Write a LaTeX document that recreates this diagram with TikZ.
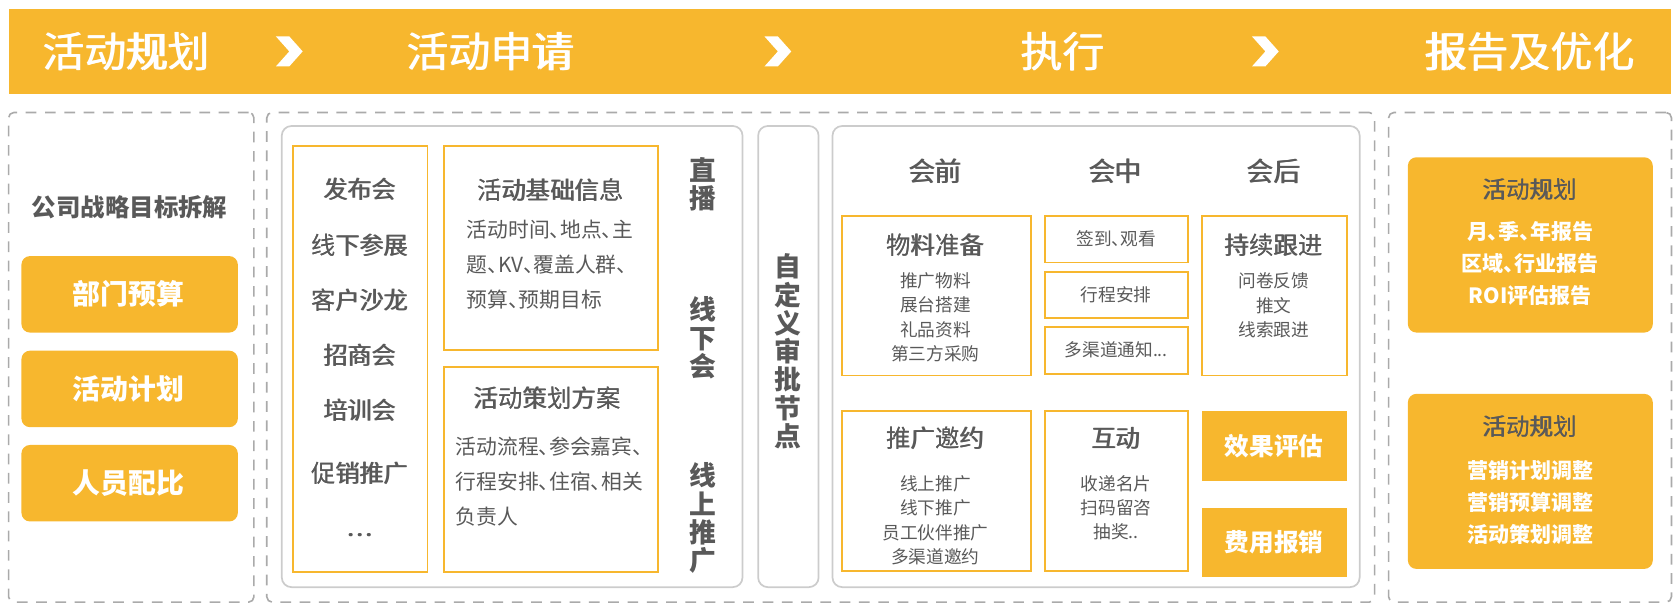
\documentclass[tikz,border=0pt]{standalone}
\usepackage{fontspec}
\setmainfont{Noto Sans CJK SC}[RawFeature=+palt]
\usetikzlibrary{fit}

\definecolor{barorange}{RGB}{247,183,46}
\definecolor{textgray}{RGB}{89,89,89}
\definecolor{dashgray}{RGB}{170,170,170}
\definecolor{linegray}{RGB}{204,204,204}

% heavier strokes for the medium-weight labels
\newcommand{\thick}[2][0.3pt]{\rlap{#2}\kern#1#2}

\tikzset{
  panel/.style={draw=dashgray, line width=0.75pt, dash pattern=on 5pt off 4pt, rounded corners=2.5pt, inner sep=0pt},
  frame/.style={draw=linegray, line width=0.8pt, rounded corners=4.5pt, inner sep=0pt},
  obox/.style={draw=barorange, line width=0.9pt, inner sep=0pt},
  ofill/.style={fill=barorange, inner sep=0pt},
  rfill/.style={fill=barorange, rounded corners=4pt, inner sep=0pt},
  head/.style={text=white, inner sep=0pt, font=\fontsize{19.5}{19.5}\selectfont},
  whitebig/.style={text=white, inner sep=0pt, font=\bfseries\fontsize{13}{13}\selectfont},
  whitemid/.style={text=white, inner sep=0pt, font=\bfseries\fontsize{11.5}{12}\selectfont},
  sidehead/.style={text=textgray, inner sep=0pt, font=\bfseries\fontsize{11.4}{12}\selectfont},
  item/.style={text=textgray, inner sep=0pt, font=\fontsize{11.3}{12}\selectfont},
  title/.style={text=textgray, inner sep=0pt, font=\fontsize{11.4}{12}\selectfont},
  body/.style={text=textgray, inner sep=0pt, align=left, font=\fontsize{9.7}{16.4}\selectfont},
  vert/.style={text=textgray, inner sep=0pt, align=center, font=\bfseries\fontsize{12.5}{13.2}\selectfont},
  phase/.style={text=textgray, inner sep=0pt, font=\fontsize{12.5}{13}\selectfont},
  small/.style={text=textgray, inner sep=0pt, align=center, font=\fontsize{8.25}{11.35}\selectfont},
  rtitle/.style={text=textgray, inner sep=0pt, font=\fontsize{11}{12}\selectfont},
  rline/.style={text=white, inner sep=0pt, align=center, font=\bfseries\fontsize{9.8}{14.8}\selectfont}
}

\begin{document}
\begin{tikzpicture}[x=0.5pt,y=-0.5pt]
  \useasboundingbox (0,0) rectangle (1568,571);
  % Header bar
  \node[ofill, fit={(8,8.5) (1560,87.5)}] (bar) {};
  \node[head] (h1) at (118,48) {\thick[0.55pt]{活动规划}};
  \node[head] (h2) at (458,48) {\thick[0.55pt]{活动申请}};
  \node[head] (h3) at (992,48) {\thick[0.55pt]{执行}};
  \node[head] (h4) at (1428,48) {\thick[0.55pt]{报告及优化}};
  \foreach \cx in {270,726,1181}
    \fill[white] (\cx-12.5,34) -- (\cx,34) -- (\cx+12.5,48) -- (\cx,62) -- (\cx-12.5,62) -- (\cx,48) -- cycle;

  % Planning
  \node[panel, fit={(8,105) (237,562)}] (plan) {};
  \node[sidehead] (goal) at (121,193) {公司战略目标拆解};
  \foreach \t/\y [count=\i] in {部门预算/274.7, 活动计划/363, 人员配比/451} {
    \node[rfill, fit={(20,\y-35.7) (222,\y+35.7)}] (dept\i) {};
    \node[whitebig] (deptt\i) at (120,\y) {\t};
  }

  % Application
  \node[panel, fit={(249,105) (1283,562)}] (apply) {};
  \node[frame, fit={(263,117.6) (693,548)}] (applyin) {};
  \node[obox, fit={(273.6,136) (399,534)}] (types) {};
  \foreach \t/\y [count=\i] in {发布会/177, 线下参展/228.6, 客户沙龙/280, 招商会/332, 培训会/382.5, 促销推广/441.5, {…}/499}
    \node[item] (type\i) at (336,\y) {\thick{\t}};
  \node[obox, fit={(414.6,136) (614,326.6)}] (info) {};
  \node[title] (infot) at (514,177) {\thick{活动基础信息}};
  \node[body, anchor=west] (infob) at (435.4,247.3) {活动时间、地点、主\\题、KV、覆盖人群、\\预算、预期目标};
  \node[obox, fit={(414.6,342.5) (614,534)}] (scheme) {};
  \node[title] (schemet) at (511,371.5) {\thick{活动策划方案}};
  \node[body, anchor=west] (schemeb) at (425,449.4) {活动流程、参会嘉宾、\\行程安排、住宿、相关\\负责人};
  \node[vert] (live) at (656,171.8) {直\\播};
  \node[vert] (offline) at (656,315.5) {线\\下\\会};
  \node[vert] (online) at (656,483.7) {线\\上\\推\\广};

  % Approval
  \node[frame, fit={(707.6,117.6) (764,548)}] (approve) {};
  \node[vert] (approvet) at (735.5,328) {自\\定\\义\\审\\批\\节\\点};

  % Execution
  \node[frame, fit={(777,117.6) (1269,548)}] (exec) {};
  \foreach \t/\x [count=\i] in {会前/873, 会中/1041, 会后/1189}
    \node[phase] (ph\i) at (\x,160) {\thick[0.4pt]{\t}};
  \node[obox, fit={(785.6,201.5) (962,350.5)}] (prep) {};
  \node[title] (prept) at (873,228.6) {\thick{物料准备}};
  \node[small] (prepb) at (873,296) {推广物料\\展台搭建\\礼品资料\\第三方采购};
  \foreach \t/\ya/\yb [count=\i] in {{签到、观看}/201.5/245, {行程安排}/253.5/297, {多渠道通知...}/304.8/349} {
    \node[obox, fit={(975,\ya) (1108.6,\yb)}] (mid\i) {};
    \node[small] (midt\i) at (mid\i) {\t};
  }
  \node[obox, fit={(1121.6,201.5) (1257,350.5)}] (follow) {};
  \node[title] (followt) at (1189,228.6) {\thick{持续跟进}};
  \node[small] (followb) at (1189,285) {问卷反馈\\推文\\线索跟进};
  \node[obox, fit={(785.6,383.5) (962,532.5)}] (invite) {};
  \node[title] (invitet) at (873,409) {\thick{推广邀约}};
  \node[small] (inviteb) at (873,485.6) {线上推广\\线下推广\\员工伙伴推广\\多渠道邀约};
  \node[obox, fit={(975,383.5) (1108.6,532.5)}] (interact) {};
  \node[title] (interactt) at (1041.8,409) {\thick{互动}};
  \node[small] (interactb) at (1041.8,474) {收递名片\\扫码留咨\\抽奖..};
  \node[ofill, fit={(1121.6,384) (1257,448.5)}] (effect) {};
  \node[whitemid] (effectt) at (effect) {效果评估};
  \node[ofill, fit={(1121.6,473.7) (1257,538.6)}] (cost) {};
  \node[whitemid] (costt) at (cost) {费用报销};

  % Report
  \node[panel, fit={(1296,105) (1560,562)}] (report) {};
  \node[rfill, fit={(1314,146.8) (1542.6,310.4)}] (rep1) {};
  \node[rtitle] (rep1t) at (1428,177.3) {\thick{活动规划}};
  \node[rline] (rep1b) at (1428,245.8) {月、季、年报告\\区域、行业报告\\ROI评估报告};
  \node[rfill, fit={(1314,367.6) (1542.6,531)}] (rep2) {};
  \node[rtitle] (rep2t) at (1428,398) {\thick{活动规划}};
  \node[rline] (rep2b) at (1428,469.2) {营销计划调整\\营销预算调整\\活动策划调整};
\end{tikzpicture}
\end{document}
